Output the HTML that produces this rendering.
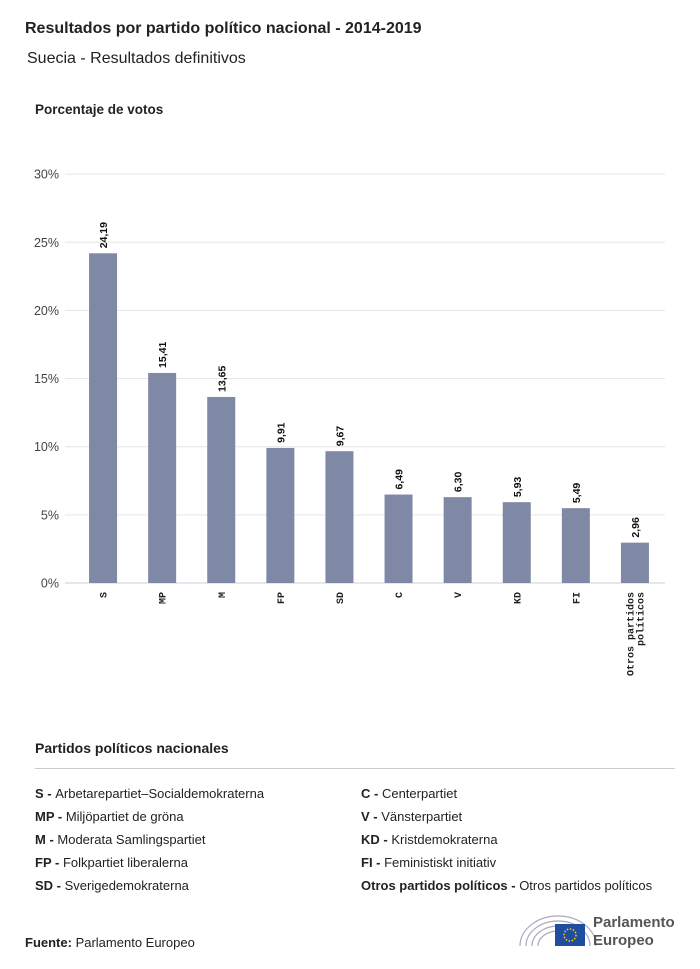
<!DOCTYPE html>
<html><head><meta charset="utf-8"><style>
body{margin:0;width:700px;height:969px;background:#fff;font-family:"Liberation Sans",sans-serif;color:#222;position:relative;overflow:hidden}
.t{position:absolute;white-space:nowrap}
.leg{font-size:13px;color:#222}
.leg b{font-weight:bold}
</style></head><body>
<div class="t" style="left:25px;top:20px;font-size:16px;font-weight:bold">Resultados por partido político nacional - 2014-2019</div>
<div class="t" style="left:27px;top:50px;font-size:16px">Suecia - Resultados definitivos</div>
<div class="t" style="left:35px;top:102px;font-size:13.5px;font-weight:bold">Porcentaje de votos</div>
<svg id="chart" width="700" height="700" style="position:absolute;left:0;top:0"></svg>
<div class="t" style="left:35px;top:740px;font-size:14px;font-weight:bold">Partidos políticos nacionales</div>
<div style="position:absolute;left:35px;top:768px;width:640px;height:1px;background:#ccc"></div>
<div class="t leg" style="left:35px;top:786px"><b>S - </b>Arbetarepartiet–Socialdemokraterna</div>
<div class="t leg" style="left:35px;top:809px"><b>MP - </b>Miljöpartiet de gröna</div>
<div class="t leg" style="left:35px;top:832px"><b>M - </b>Moderata Samlingspartiet</div>
<div class="t leg" style="left:35px;top:855px"><b>FP - </b>Folkpartiet liberalerna</div>
<div class="t leg" style="left:35px;top:878px"><b>SD - </b>Sverigedemokraterna</div>
<div class="t leg" style="left:361px;top:786px"><b>C - </b>Centerpartiet</div>
<div class="t leg" style="left:361px;top:809px"><b>V - </b>Vänsterpartiet</div>
<div class="t leg" style="left:361px;top:832px"><b>KD - </b>Kristdemokraterna</div>
<div class="t leg" style="left:361px;top:855px"><b>FI - </b>Feministiskt initiativ</div>
<div class="t leg" style="left:361px;top:878px"><b>Otros partidos políticos - </b>Otros partidos políticos</div>
<div class="t" style="left:25px;top:935px;font-size:13px"><b>Fuente:</b> Parlamento Europeo</div>
<svg width="80" height="40" style="position:absolute;left:518px;top:910px">
<g fill="none" stroke="#aab" stroke-width="1.2">
<path d="M2 36 A38 30 0 0 1 78 36"/><path d="M8 36 A32 25 0 0 1 72 36"/><path d="M14 36 A26 20 0 0 1 66 36"/><path d="M20 36 A20 15 0 0 1 60 36"/>
</g>
<rect x="37" y="14" width="30" height="22" fill="#1f4ea1"/>
<circle cx="52" cy="25" r="6" fill="none" stroke="#fc0" stroke-width="1.5" stroke-dasharray="1.5 1.6"/>
</svg>
<div class="t" style="left:593px;top:914px;font-size:15px;font-weight:bold;color:#555;line-height:18px">Parlamento<br>Europeo</div>
<script>
const categories=["S","MP","M","FP","SD","C","V","KD","FI","Otros partidos|políticos"];
const values=[24.19,15.41,13.65,9.91,9.67,6.49,6.30,5.93,5.49,2.96];
const valueLabels=["24,19","15,41","13,65","9,91","9,67","6,49","6,30","5,93","5,49","2,96"];
const yTicks=[0,5,10,15,20,25,30];
const NS="http://www.w3.org/2000/svg";
const svg=document.getElementById('chart');
const y=v=>583-v*13.63;
const x0=73.5,step=59.1,bw=28;
const xc=i=>x0+step*i+step/2;
function mk(t,a){const e=document.createElementNS(NS,t);for(const k in a)e.setAttribute(k,a[k]);svg.appendChild(e);return e;}
yTicks.forEach(t=>{
 const g=mk('line',{x1:65,x2:665,y1:y(t),y2:y(t),stroke:t===0?'#c8cfe0':'#e6e6e6','stroke-width':1});
 
 
 const l=mk('text',{x:59,y:y(t)+4.5,'text-anchor':'end','font-size':12.5,fill:'#444','font-family':'Liberation Sans, sans-serif'});
 l.textContent=t+'%';
 
 
});
values.forEach((v,i)=>{
 const r=mk('rect',{x:xc(i)-bw/2,y:y(v),width:bw,height:y(0)-y(v),fill:'#7f88a5'});
 
 
 const t=mk('text',{transform:`translate(${xc(i)+4},${y(v)-5}) rotate(-90)`,'font-size':10.5,'font-weight':'bold',fill:'#111','font-family':'Liberation Sans, sans-serif'});
 t.textContent=valueLabels[i];
 
 
 const parts=categories[i].split('|');
 parts.forEach((p,j)=>{
  const off=(j-(parts.length-1)/2)*10;
  const c=mk('text',{transform:`translate(${xc(i)+3.5+off},592) rotate(-90)`,'text-anchor':'end','font-size':10,'font-weight':'bold',fill:'#222','font-family':'Liberation Mono, monospace'});
  c.textContent=p;
  
  
 });
});
</script>
</body></html>
